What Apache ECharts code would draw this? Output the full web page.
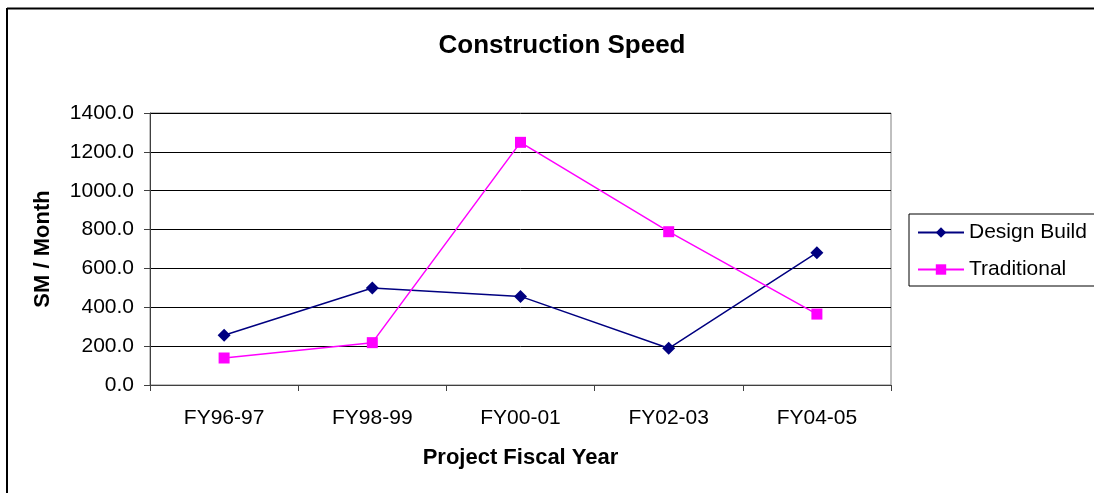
<!DOCTYPE html>
<html>
<head>
<meta charset="utf-8">
<script src="https://cdn.jsdelivr.net/npm/echarts@6/dist/echarts.min.js"></script>
<style>
  html, body { margin: 0; padding: 0; background: #fff; }
  #chart { width: 1094px; height: 493px; }
</style>
</head>
<body>
<div id="chart"></div>
<script>
var years = ['FY96-97', 'FY98-99', 'FY00-01', 'FY02-03', 'FY04-05'];
var designBuild = [256, 499, 456, 189, 681];
var traditional = [139, 218, 1249, 789, 365];

var chart = echarts.init(document.getElementById('chart'));
var font = 'Arial, "Liberation Sans", sans-serif';

var option = {
  animation: false,
  title: {
    text: 'Construction Speed',
    left: 557,
    top: 28,
    textAlign: 'center',
    textStyle: { fontFamily: font, fontSize: 26, fontWeight: 'bold', color: '#000' }
  },
  legend: {
    orient: 'vertical',
    left: 909,
    top: 214,
    padding: [8, 40, 6, 8],
    itemGap: 16,
    itemWidth: 46,
    itemHeight: 13,
    borderColor: '#000',
    borderWidth: 1,
    borderRadius: 0,
    textStyle: { fontFamily: font, fontSize: 21, color: '#000', padding: [0, 0, 0, 0] },
    data: ['Design Build', 'Traditional']
  },
  grid: {
    left: 150,
    right: 203,
    top: 113,
    bottom: 108,
    show: true,
    borderColor: '#808080',
    borderWidth: 1
  },
  xAxis: {
    type: 'category',
    data: years,
    boundaryGap: true,
    name: 'Project Fiscal Year',
    nameLocation: 'middle',
    nameGap: 62,
    nameTextStyle: { fontFamily: font, fontSize: 22, fontWeight: 'bold', color: '#000' },
    axisLine: { lineStyle: { color: '#404040', width: 1 } },
    axisTick: { show: true, alignWithLabel: false, length: 6, lineStyle: { color: '#404040' } },
    axisLabel: { fontFamily: font, fontSize: 21, color: '#000', margin: 23 }
  },
  yAxis: {
    type: 'value',
    min: 0,
    max: 1400,
    interval: 200,
    name: 'SM / Month',
    nameLocation: 'middle',
    nameGap: 96,
    nameTextStyle: { fontFamily: font, fontSize: 22, fontWeight: 'bold', color: '#000' },
    axisLine: { show: true, lineStyle: { color: '#404040', width: 1 } },
    axisTick: { show: true, length: 6, lineStyle: { color: '#404040' } },
    axisLabel: {
      fontFamily: font, fontSize: 21, color: '#000', margin: 16,
      formatter: function (v) { return v.toFixed(1); }
    },
    splitLine: { lineStyle: { color: '#000', width: 1 } }
  },
  series: [
    {
      name: 'Design Build',
      type: 'line',
      data: designBuild,
      symbol: 'diamond',
      symbolSize: 13,
      color: '#000080',
      lineStyle: { color: '#000080', width: 1.5 },
      itemStyle: { color: '#000080' }
    },
    {
      name: 'Traditional',
      type: 'line',
      data: traditional,
      symbol: 'rect',
      symbolSize: 11,
      color: '#ff00ff',
      lineStyle: { color: '#ff00ff', width: 1.5 },
      itemStyle: { color: '#ff00ff' }
    }
  ],
  graphic: [
    { type: 'line', shape: { x1: 7, y1: 8.5, x2: 1094, y2: 8.5 }, style: { stroke: '#000', lineWidth: 2 } },
    { type: 'line', shape: { x1: 7, y1: 8, x2: 7, y2: 493 }, style: { stroke: '#000', lineWidth: 2 } }
  ]
};
chart.setOption(option);
</script>
</body>
</html>
